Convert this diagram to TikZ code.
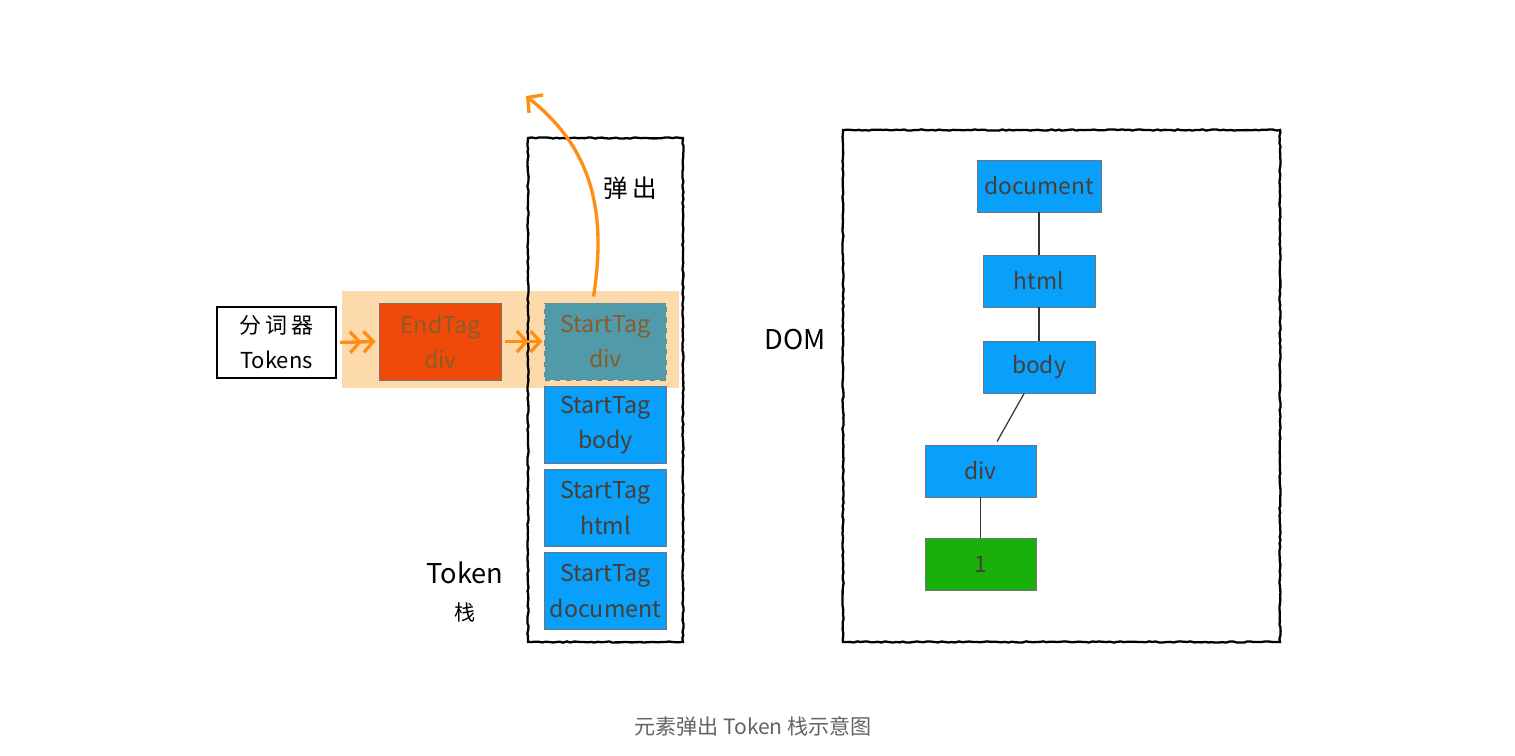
\documentclass[tikz,border=0pt]{standalone}
\usepackage{fontspec}
\setmainfont{Noto Sans CJK SC}
\usetikzlibrary{arrows.meta,decorations.pathmorphing}

\definecolor{tagblue}{RGB}{8,160,250}
\definecolor{tagred}{RGB}{240,74,10}
\definecolor{tagteal}{RGB}{80,154,170}
\definecolor{taggreen}{RGB}{26,176,12}
\definecolor{tagtext}{RGB}{72,62,52}
\definecolor{poptext}{RGB}{140,92,40}
\definecolor{popline}{RGB}{255,142,22}
\definecolor{popband}{RGB}{253,218,172}
\definecolor{captext}{RGB}{100,100,100}

\tikzset{
	sketchy/.style={draw=black, line width=1.3pt, decorate,
		decoration={random steps, segment length=2pt, amplitude=0.35pt}},
	tagbox/.style={draw=black!55, line width=0.5pt, fill=tagblue, text=tagtext,
		minimum width=2.44cm, minimum height=1.54cm, align=center,
		font=\fontsize{13.2}{20}\selectfont, inner sep=0pt},
	treebox/.style={draw=black!55, line width=0.5pt, fill=tagblue, text=tagtext,
		minimum width=2.24cm, minimum height=1.04cm, inner sep=0pt,
		font=\fontsize{13}{16}\selectfont},
	pusharrow/.style={draw=popline, line width=1.9pt,
		-{Straight Barb[length=5.5pt,width=12pt]Straight Barb[length=5.5pt,width=12pt]}},
	treeline/.style={draw=black!80, line width=0.7pt},
	label/.style={font=\fontsize{14}{18}\selectfont, text=black}
}

\begin{document}
\begin{tikzpicture}[x=0.02cm, y=-0.02cm]
			%%%%% START %%%%%
			\useasboundingbox (0, 0) rectangle (1515, 756);
			
			% band behind the popped token
			\fill[popband] (342, 291) rectangle (679, 388);
			
			% token stack frame
			\draw[sketchy] (528, 138) rectangle (683, 642);
			\node[label] (pop) at (630, 188) {弹\,出};
			\node[label, font=\fontsize{15.5}{18}\selectfont] (stackname) at (465, 573) {Token};
			\node[label, font=\fontsize{12}{14}\selectfont] (stackzh) at (465, 612) {栈};
			
			% tokenizer
			\node[draw=black, line width=0.8pt, fill=white, minimum width=2.38cm, minimum height=1.42cm,
				align=center, inner sep=0pt, font=\fontsize{12.5}{20}\selectfont] (tok) at (276.5, 342.5) {分\,词\,器\\Tokens};
			
			\node[tagbox, fill=tagred, text=poptext] (endtag) at (440.5, 341.5) {EndTag\\div};
			\node[tagbox, fill=tagteal, text=poptext, dashed, draw=black!50] (startdiv) at (605.5, 341.5) {StartTag\\div};
			\node[tagbox] (startbody) at (605.5, 425) {StartTag\\body};
			\node[tagbox] (starthtml) at (605.5, 508) {StartTag\\html};
			\node[tagbox] (startdoc) at (605.5, 591) {StartTag\\document};
			
			\draw[pusharrow, shorten <=2pt, shorten >=2pt] (tok.east) -- (endtag.west);
			\draw[pusharrow, shorten <=2pt, shorten >=1pt] (endtag.east) -- (startdiv.west);
			
			\coordinate (popend) at (526, 96);
			\draw[draw=popline, line width=1.9pt, -{Straight Barb[length=6pt,width=13pt]}]
				([xshift=-0.24cm, yshift=0.12cm]startdiv.north) .. controls (608, 205) and (588, 145) .. (popend);
			
			% DOM frame
			\draw[sketchy] (843, 130) rectangle (1280, 642);
			\node[label, font=\fontsize{15.5}{18}\selectfont] (domname) at (795, 340) {DOM};
			
			\node[treebox, minimum width=2.48cm] (ndoc) at (1039, 186) {document};
			\node[treebox] (nhtml) at (1039, 281) {html};
			\node[treebox] (nbody) at (1039, 367) {body};
			\node[treebox, minimum width=2.22cm] (ndiv) at (980.5, 471) {div};
			\node[treebox, minimum width=2.22cm, fill=taggreen] (none) at (980.5, 564) {1};
			
			\draw[treeline] (ndoc) -- (nhtml);
			\draw[treeline] (nhtml) -- (nbody);
			\draw[treeline, shorten >=2pt] (nbody) -- (ndiv);
			\draw[treeline] (ndiv) -- (none);
			
			% caption
			\node[font=\fontsize{12}{14}\selectfont, text=captext] (caption) at (753, 726) {元素弹出 Token 栈示意图};
			%%%%% END %%%%%
\end{tikzpicture}
\end{document}
